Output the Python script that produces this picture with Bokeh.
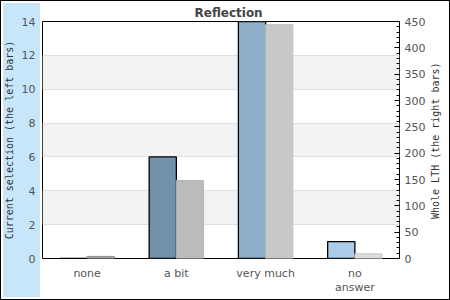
from bokeh.plotting import figure
from bokeh.models import (ColumnDataSource, FactorRange, Range1d, LinearAxis,
                          SingleIntervalTicker, FixedTicker)
from bokeh.transform import dodge
from bokeh.embed import file_html
from bokeh.resources import INLINE
import math

categories = ["none", "a bit", "very much", "no\nanswer"]
current_selection = [0, 6, 14, 1]
whole_lth = [4, 148, 444, 9]
left_colors = ["#5d7d98", "#7090ab", "#8fb0cb", "#abcde9"]
right_colors = ["#a8a8a8", "#bbbbbb", "#c8c8c8", "#dddddd"]
right_lines = ["#8c8c8c", "#b5b5b5", "#c0c0c0", "#c8c8c8"]
left_title = "Current selection (the left bars)"
right_title = "Whole LTH (the right bars)"

src = ColumnDataSource(dict(cat=categories, cur=current_selection, whole=whole_lth,
                            lc=left_colors, rc=right_colors, rl=right_lines))

p = figure(width=450, height=300, x_range=FactorRange(*categories),
           y_range=Range1d(0, 14), output_backend="svg", toolbar_location=None,
           min_border_left=40, min_border_right=51, min_border_top=21,
           min_border_bottom=42)
p.extra_y_ranges = {"right": Range1d(0, 450)}

# page-level look: white card, blue band on the left, thin black border
p.styles = {
    "background": "linear-gradient(#c8e6fa, #c8e6fa) 3px 3px / 37px 294px no-repeat, #ffffff",
    "box-shadow": "inset 0 0 0 1px #000000",
}
p.border_fill_color = None
p.border_fill_alpha = 0

p.title.text = "Reflection"
p.title.text_font = "DejaVu Sans"
p.title.text_font_size = "12px"
p.title.text_font_style = "bold"
p.title.text_color = "#444444"
p.title.align = "left"
p.title.offset = 152
p.title.standoff = 4

p.background_fill_color = "white"
p.outline_line_color = "black"
p.outline_line_width = 1

# bars
p.vbar(x=dodge("cat", -0.1525, range=p.x_range), top="cur", width=0.305, source=src,
       fill_color="lc", line_color="black", line_width=1.3)
p.vbar(x=dodge("cat", 0.1525, range=p.x_range), top="whole", width=0.305, source=src,
       fill_color="rc", line_color="rl", line_width=1, y_range_name="right")

# grid
p.xgrid.grid_line_color = None
p.ygrid.ticker = SingleIntervalTicker(interval=2)
p.ygrid.grid_line_color = "#e0e0e0"
p.ygrid.band_fill_color = "#f3f3f3"
p.ygrid.band_fill_alpha = 1

# left axis
ya = p.yaxis[0]
ya.ticker = SingleIntervalTicker(interval=2)
ya.axis_line_color = None
ya.major_tick_line_color = None
ya.minor_tick_line_color = None
ya.major_tick_in = 0
ya.major_tick_out = 0
ya.minor_tick_in = 0
ya.minor_tick_out = 0
ya.major_label_standoff = 7
ya.major_label_text_font = "DejaVu Sans"
ya.major_label_text_font_size = "11px"
ya.major_label_text_color = "#555555"
ya.axis_label = left_title
ya.axis_label_text_font = "DejaVu Sans Mono"
ya.axis_label_text_font_size = "10px"
ya.axis_label_text_font_style = "normal"
ya.axis_label_text_color = "#333333"
ya.axis_label_standoff = 4

# right axis (ticks and numbers)
ra = LinearAxis(y_range_name="right",
                ticker=SingleIntervalTicker(interval=50, num_minor_ticks=5))
ra.axis_line_color = None
ra.major_tick_in = 5
ra.major_tick_out = 0
ra.minor_tick_in = 3
ra.minor_tick_out = 0
ra.major_tick_line_color = "black"
ra.minor_tick_line_color = "black"
ra.major_label_standoff = 5
ra.major_label_text_font = "DejaVu Sans"
ra.major_label_text_font_size = "11px"
ra.major_label_text_color = "#555555"
p.add_layout(ra, "right")

# right axis title: one rotated label, reading bottom to top, starting low
start = 75
rt = LinearAxis(y_range_name="right", ticker=FixedTicker(ticks=[start]))
rt.major_label_overrides = {start: right_title}
rt.major_label_orientation = math.pi / 2
rt.axis_line_color = None
rt.major_tick_line_color = None
rt.minor_tick_line_color = None
rt.major_tick_in = 0
rt.major_tick_out = 0
rt.minor_tick_in = 0
rt.minor_tick_out = 0
rt.major_label_standoff = 7
rt.major_label_text_font = "DejaVu Sans Mono"
rt.major_label_text_font_size = "10px"
rt.major_label_text_color = "#333333"
p.add_layout(rt, "right")

# bottom axis
xa = p.xaxis[0]
xa.axis_line_color = None
xa.major_tick_line_color = None
xa.minor_tick_line_color = None
xa.major_tick_in = 0
xa.major_tick_out = 0
xa.major_label_standoff = 8
xa.major_label_text_font = "DejaVu Sans"
xa.major_label_text_font_size = "11px"
xa.major_label_text_color = "#555555"
xa.major_label_text_line_height = 1.1

open("out.html", "w").write(file_html(p, INLINE))
